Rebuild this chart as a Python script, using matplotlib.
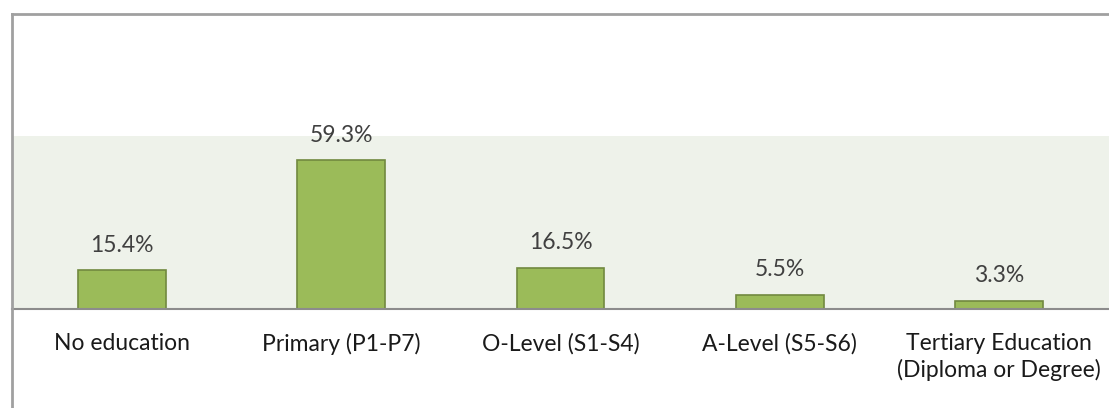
import matplotlib
matplotlib.use('Agg')
from matplotlib import pyplot as plt
from matplotlib.lines import Line2D

categories = ['No education', 'Primary (P1-P7)', 'O-Level (S1-S4)', 'A-Level (S5-S6)',
              'Tertiary Education\n(Diploma or Degree)']
values = [15.4, 59.3, 16.5, 5.5, 3.3]

plt.rcParams['font.family'] = ['Lato', 'DejaVu Sans']

fig = plt.figure(figsize=(11.09, 4.08), dpi=100)
ax = fig.add_axes([12 / 1109, 99 / 408, 1 - 12 / 1109, 173 / 408])
ax.set_facecolor('#EEF2EA')

x = list(range(len(categories)))
bars = ax.bar(x, values, width=0.4, color='#9BBB59', edgecolor='#71893F', linewidth=1.2, zorder=2)

for xi, v in zip(x, values):
    ax.annotate(f'{v}%', (xi, v), xytext=(0, 13.5), textcoords='offset points',
                ha='center', va='baseline', fontsize=16.5, color='#404040')

ax.set_xlim(-0.5, len(categories) - 0.5)
ax.set_ylim(0, 69)
ax.set_yticks([])
ax.set_xticks(x)
ax.set_xticklabels(categories, fontsize=16.5, color='#1a1a1a', linespacing=1.3)
ax.tick_params(axis='x', length=0, pad=17)
for s in ['top', 'left', 'right']:
    ax.spines[s].set_visible(False)
ax.spines['bottom'].set_color('#8c8c8c')
ax.spines['bottom'].set_linewidth(1.5)
ax.spines['bottom'].set_zorder(3)

# outer chart border (top and left visible)
fig.add_artist(Line2D([11.5 / 1109, 1], [1 - 13.5 / 408, 1 - 13.5 / 408],
                      transform=fig.transFigure, color='#a0a0a0', linewidth=2))
fig.add_artist(Line2D([11.5 / 1109, 11.5 / 1109], [0, 1 - 13.5 / 408],
                      transform=fig.transFigure, color='#a0a0a0', linewidth=2))

fig.savefig('out.png', dpi=100)
